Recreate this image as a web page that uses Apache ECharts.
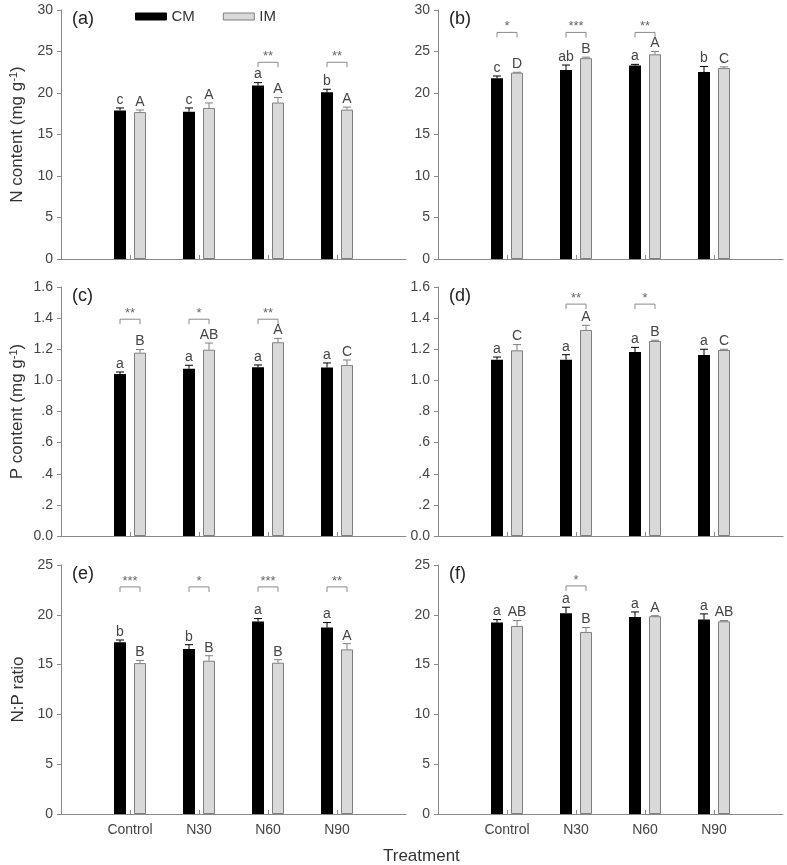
<!DOCTYPE html>
<html>
<head>
<meta charset="utf-8">
<script src="https://cdn.jsdelivr.net/npm/echarts@6/dist/echarts.min.js"></script>
<style>html,body{margin:0;padding:0;background:#fff;}#c{width:787px;height:865px;}</style>
</head>
<body>
<div id="c"></div>
<script>
// ---- data ----
const categories = ['Control', 'N30', 'N60', 'N90'];
const pTickLabels = ['0.0', '.2', '.4', '.6', '.8', '1.0', '1.2', '1.4', '1.6'];

// (a) N content
const aCM = [17.9, 17.75, 20.9, 20.08];
const aCMErr = [0.3, 0.45, 0.35, 0.37];
const aIM = [17.7, 18.2, 18.85, 18.0];
const aIMErr = [0.25, 0.6, 0.6, 0.3];
const aCMLet = ['c', 'c', 'a', 'b'];
const aIMLet = ['A', 'A', 'A', 'A'];
const aSig = ['', '', '**', '**'];
const aSigLevel = 23.7;

// (b)
const bCM = [21.77, 22.77, 23.3, 22.53];
const bCMErr = [0.28, 0.6, 0.15, 0.67];
const bIM = [22.45, 24.2, 24.66, 23.0];
const bIMErr = [0.05, 0.12, 0.35, 0.15];
const bCMLet = ['c', 'ab', 'a', 'b'];
const bIMLet = ['D', 'B', 'A', 'C'];
const bSig = ['*', '***', '**', ''];
const bSigLevel = 27.3;

// (c) P content
const cCM = [1.041, 1.075, 1.084, 1.082];
const cCMErr = [0.013, 0.022, 0.015, 0.03];
const cIM = [1.178, 1.197, 1.245, 1.099];
const cIMErr = [0.02, 0.043, 0.025, 0.032];
const cCMLet = ['a', 'a', 'a', 'a'];
const cIMLet = ['B', 'AB', 'A', 'C'];
const cSig = ['**', '*', '**', ''];
const cSigLevel = 1.393;

// (d)
const dCM = [1.133, 1.133, 1.182, 1.163];
const dCMErr = [0.017, 0.032, 0.03, 0.037];
const dIM = [1.193, 1.324, 1.253, 1.195];
const dIMErr = [0.037, 0.03, 0.005, 0.005];
const dCMLet = ['a', 'a', 'a', 'a'];
const dIMLet = ['C', 'A', 'B', 'C'];
const dSig = ['', '**', '*', ''];
const dSigLevel = 1.49;

// (e) N:P ratio
const eCM = [17.24, 16.56, 19.32, 18.72];
const eCMErr = [0.23, 0.44, 0.3, 0.5];
const eIM = [15.15, 15.39, 15.19, 16.53];
const eIMErr = [0.27, 0.5, 0.3, 0.57];
const eCMLet = ['b', 'b', 'a', 'a'];
const eIMLet = ['B', 'B', 'B', 'A'];
const eSig = ['***', '*', '***', '**'];
const eSigLevel = 22.8;

// (f)
const fCM = [19.22, 20.16, 19.79, 19.52];
const fCMErr = [0.3, 0.6, 0.5, 0.57];
const fIM = [18.88, 18.28, 19.86, 19.35];
const fIMErr = [0.54, 0.44, 0.05, 0.07];
const fCMLet = ['a', 'a', 'a', 'a'];
const fIMLet = ['AB', 'B', 'A', 'AB'];
const fSig = ['', '*', '', ''];
const fSigLevel = 22.9;

const panelLabels = ['(a)', '(b)', '(c)', '(d)', '(e)', '(f)'];
const yTitles = ['N content (mg g{sup|-1})', '', 'P content (mg g{sup|-1})', '', 'N:P ratio', ''];
const yMax = [30, 30, 1.6, 1.6, 25, 25];
const yInterval = [5, 5, 0.2, 0.2, 5, 5];

// ---- build ----
const panels = [
  [aCM, aCMErr, aIM, aIMErr, aCMLet, aIMLet, aSig, aSigLevel],
  [bCM, bCMErr, bIM, bIMErr, bCMLet, bIMLet, bSig, bSigLevel],
  [cCM, cCMErr, cIM, cIMErr, cCMLet, cIMLet, cSig, cSigLevel],
  [dCM, dCMErr, dIM, dIMErr, dCMLet, dIMLet, dSig, dSigLevel],
  [eCM, eCMErr, eIM, eIMErr, eCMLet, eIMLet, eSig, eSigLevel],
  [fCM, fCMErr, fIM, fIMErr, fCMLet, fIMLet, fSig, fSigLevel]
];

const FONT = 'Liberation Sans, Arial, sans-serif';
const AXIS_COLOR = '#8a8a8a';
const TEXT_COLOR = '#444';
const IM_FILL = '#d9d9d9';
const IM_EDGE = '#7f7f7f';
const BAR_W = 12;
const HALF_OFF = 10; // half of (bar width + gap)

const axisCats = [''].concat(categories, ['']);
const gridPos = [
  { left: 61, top: 10 }, { left: 438, top: 10 },
  { left: 61, top: 287 }, { left: 438, top: 287 },
  { left: 61, top: 565 }, { left: 438, top: 565 }
];

const grid = [], xAxis = [], yAxis = [], series = [];

function errRenderer(offset, color, letters) {
  return function (params, api) {
    const x = api.value(0), v = api.value(1), e = api.value(2);
    const base = api.coord([x, v]);
    const top = api.coord([x, v + e]);
    const cx = base[0] + offset;
    return {
      type: 'group',
      children: [
        { type: 'line', shape: { x1: cx, y1: base[1], x2: cx, y2: top[1] }, style: { stroke: color, lineWidth: 1 } },
        { type: 'line', shape: { x1: cx - 4, y1: top[1], x2: cx + 4, y2: top[1] }, style: { stroke: color, lineWidth: 1 } },
        { type: 'text', style: { x: cx, y: top[1] - 1, text: letters[params.dataIndex], fill: TEXT_COLOR, font: '14px ' + FONT, textAlign: 'center', textVerticalAlign: 'bottom' } }
      ]
    };
  };
}

function sigRenderer(sigTexts) {
  return function (params, api) {
    const x = api.value(0), lv = api.value(1);
    const p = api.coord([x, lv]);
    const l = p[0] - HALF_OFF, r = p[0] + HALF_OFF;
    return {
      type: 'group',
      children: [
        { type: 'polyline', shape: { points: [[l, p[1] + 5], [l, p[1]], [r, p[1]], [r, p[1] + 5]] }, style: { stroke: AXIS_COLOR, lineWidth: 1, fill: null } },
        { type: 'text', style: { x: p[0], y: p[1] + 1, text: sigTexts[params.dataIndex], fill: '#666', font: '13px ' + FONT, textAlign: 'center', textVerticalAlign: 'bottom' } }
      ]
    };
  };
}

panels.forEach((pn, k) => {
  const [cm, cmErr, im, imErr, cmLet, imLet, sig, sigLevel] = pn;
  grid.push({ left: gridPos[k].left, top: gridPos[k].top, width: 345, height: 249, containLabel: false });
  const bottom = k >= 4;
  xAxis.push({
    type: 'category', gridIndex: k, data: axisCats, boundaryGap: false,
    axisLine: { show: true, lineStyle: { color: AXIS_COLOR, width: 1 } },
    axisTick: { show: true, inside: true, length: 4, interval: (i) => i >= 1 && i <= 4, lineStyle: { color: AXIS_COLOR } },
    axisLabel: { show: bottom, interval: 0, color: TEXT_COLOR, fontSize: 14, fontFamily: FONT, margin: 9 },
    splitLine: { show: false }
  });
  const isP = (k === 2 || k === 3);
  yAxis.push({
    type: 'value', gridIndex: k, min: 0, max: yMax[k], interval: yInterval[k],
    name: yTitles[k], nameLocation: 'middle', nameGap: 34, nameRotate: 90,
    nameTextStyle: { color: '#333', fontSize: 17, fontFamily: FONT, rich: { sup: { fontSize: 11, fontFamily: FONT, color: '#333', verticalAlign: 'top', padding: [0, 0, 8, 0] } } },
    axisLine: { show: true, lineStyle: { color: AXIS_COLOR, width: 1 } },
    axisTick: { show: true, inside: false, length: 4, lineStyle: { color: AXIS_COLOR } },
    axisLabel: { color: TEXT_COLOR, fontSize: 14, fontFamily: FONT, margin: 8,
      formatter: isP ? (v, idx) => pTickLabels[idx] : undefined },
    splitLine: { show: false }
  });
  series.push({
    name: 'CM', type: 'bar', xAxisIndex: k, yAxisIndex: k, barWidth: BAR_W, barGap: '66.67%',
    itemStyle: { color: '#000', borderColor: '#000', borderWidth: 0 },
    data: cm.map((v, i) => [i + 1, v]), z: 2, animation: false
  });
  series.push({
    name: 'IM', type: 'bar', xAxisIndex: k, yAxisIndex: k, barWidth: BAR_W, barGap: '66.67%',
    itemStyle: { color: IM_FILL, borderColor: IM_EDGE, borderWidth: 1 },
    data: im.map((v, i) => [i + 1, v]), z: 2, animation: false
  });
  series.push({
    name: 'CMerr', type: 'custom', xAxisIndex: k, yAxisIndex: k, z: 3, animation: false,
    renderItem: errRenderer(-HALF_OFF, '#000', cmLet),
    data: cm.map((v, i) => [i + 1, v, cmErr[i]])
  });
  series.push({
    name: 'IMerr', type: 'custom', xAxisIndex: k, yAxisIndex: k, z: 3, animation: false,
    renderItem: errRenderer(HALF_OFF, IM_EDGE, imLet),
    data: im.map((v, i) => [i + 1, v, imErr[i]])
  });
  const sigIdx = sig.map((s, i) => s ? i : -1).filter(i => i >= 0);
  series.push({
    name: 'sig', type: 'custom', xAxisIndex: k, yAxisIndex: k, z: 3, animation: false,
    renderItem: sigRenderer(sigIdx.map(i => sig[i])),
    data: sigIdx.map(i => [i + 1, sigLevel])
  });
});

const graphic = panelLabels.map((t, k) => ({
  type: 'text', left: gridPos[k].left + 11, top: gridPos[k].top,
  style: { text: t, fill: '#222', font: '18px ' + FONT }
}));
graphic.push({ type: 'text', left: 383, top: 848, style: { text: 'Treatment', fill: '#333', font: '17px ' + FONT } });

const chart = echarts.init(document.getElementById('c'), null, { renderer: 'canvas' });
chart.setOption({
  backgroundColor: '#fff',
  animation: false,
  textStyle: { fontFamily: FONT },
  legend: {
    data: ['CM', 'IM'], left: 135, top: 9, padding: 0, itemWidth: 31, itemHeight: 7, itemGap: 28,
    icon: 'rect', itemStyle: { borderWidth: 1 },
    textStyle: { color: '#333', fontSize: 15, fontFamily: FONT }
  },
  grid, xAxis, yAxis, series, graphic
});
</script>
</body>
</html>
